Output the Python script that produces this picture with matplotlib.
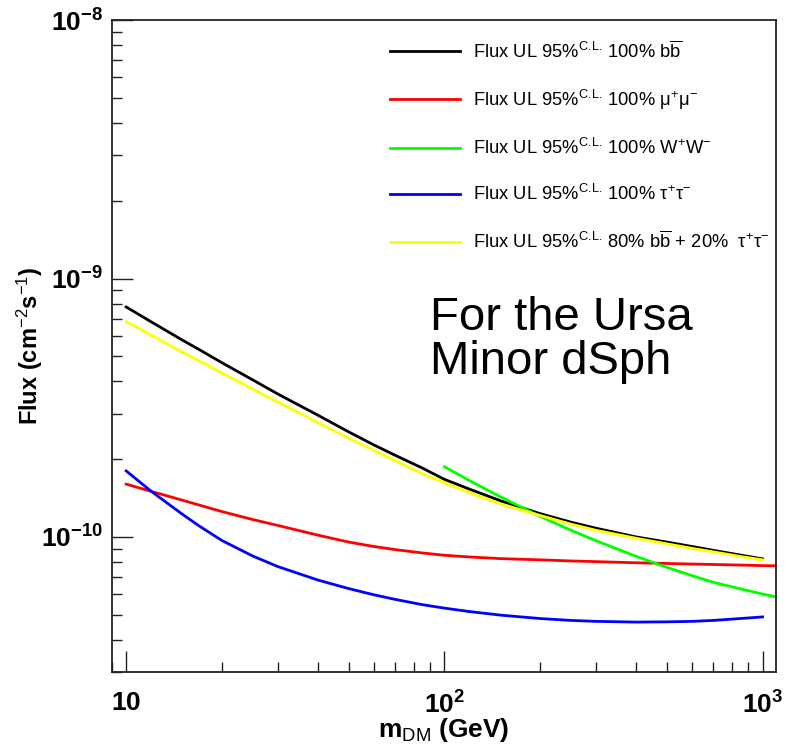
import numpy as np
import matplotlib
matplotlib.use("Agg")
import matplotlib.pyplot as plt
from matplotlib.ticker import FixedLocator, LogLocator, NullFormatter

plt.rcParams['font.family'] = ['Liberation Sans', 'DejaVu Sans']
plt.rcParams['mathtext.fontset'] = 'custom'
plt.rcParams['mathtext.rm'] = 'Liberation Sans'
plt.rcParams['mathtext.it'] = 'Liberation Sans:italic'
plt.rcParams['mathtext.bf'] = 'Liberation Sans:bold'

# DM mass grid (GeV) and flux upper limits (cm^-2 s^-1)
mass = [10, 12, 15, 17, 20, 25, 30, 40, 50, 60, 70, 85, 100, 120, 150, 200,
        250, 300, 400, 500, 600, 700, 850, 1000]
flux_bb = [7.76e-10, 6.79e-10, 5.78e-10, 5.30e-10, 4.72e-10, 4.05e-10, 3.57e-10,
           2.96e-10, 2.55e-10, 2.27e-10, 2.07e-10, 1.85e-10, 1.67e-10, 1.53e-10,
           1.38e-10, 1.23e-10, 1.14e-10, 1.08e-10, 1.00e-10, 9.55e-11, 9.18e-11,
           8.87e-11, 8.51e-11, 8.22e-11]
flux_tautau = [1.80e-10, 1.50e-10, 1.225e-10, 1.10e-10, 9.68e-11, 8.43e-11, 7.67e-11,
               6.81e-11, 6.31e-11, 5.97e-11, 5.73e-11, 5.47e-11, 5.30e-11, 5.14e-11,
               4.98e-11, 4.83e-11, 4.75e-11, 4.71e-11, 4.68e-11, 4.69e-11, 4.71e-11,
               4.75e-11, 4.83e-11, 4.90e-11]
flux_mix = [6.81e-10, 6.03e-10, 5.19e-10, 4.79e-10, 4.31e-10, 3.73e-10, 3.32e-10,
            2.77e-10, 2.41e-10, 2.16e-10, 1.97e-10, 1.76e-10, 1.62e-10, 1.48e-10,
            1.34e-10, 1.21e-10, 1.12e-10, 1.06e-10, 9.88e-11, 9.40e-11, 9.03e-11,
            8.75e-11, 8.40e-11, 8.15e-11]

# mu+mu- is drawn up to the frame edge
mass_mumu = mass + [1100]
flux_mumu = [1.60e-10, 1.50e-10, 1.387e-10, 1.327e-10, 1.253e-10, 1.167e-10, 1.107e-10,
             1.016e-10, 9.55e-11, 9.18e-11, 8.93e-11, 8.67e-11, 8.49e-11, 8.36e-11,
             8.24e-11, 8.15e-11, 8.07e-11, 8.02e-11, 7.94e-11, 7.89e-11, 7.85e-11,
             7.82e-11, 7.78e-11, 7.74e-11, 7.73e-11]

# W+W- only above the W threshold
mass_ww = [100, 120, 150, 200, 250, 300, 400, 500, 600, 700, 850, 1000, 1100]
flux_ww = [1.87e-10, 1.65e-10, 1.43e-10, 1.20e-10, 1.06e-10, 9.66e-11, 8.41e-11,
           7.62e-11, 7.08e-11, 6.67e-11, 6.30e-11, 6.01e-11, 5.86e-11]

labels = [
    r"Flux UL 95%$^{\text{C.L.}}$ 100% b$\overline{\rm b}$",
    r"Flux UL 95%$^{\text{C.L.}}$ 100% μ$^{+}$μ$^{-}$",
    r"Flux UL 95%$^{\text{C.L.}}$ 100% W$^{+}$W$^{-}$",
    r"Flux UL 95%$^{\text{C.L.}}$ 100% τ$^{+}$τ$^{-}$",
    r"Flux UL 95%$^{\text{C.L.}}$ 80% b$\overline{\rm b}$ + 20%  τ$^{+}$τ$^{-}$",
]

fig = plt.figure(figsize=(7.86, 7.45), dpi=100)
ax = fig.add_axes([0.142, 0.098, 0.845, 0.875])

lw = 2.0
ax.plot(mass, flux_bb, color='black', lw=lw, label=labels[0])
ax.plot(mass_mumu, flux_mumu, color='#ff0000', lw=lw, label=labels[1])
ax.plot(mass_ww, flux_ww, color='#00ff00', lw=lw, label=labels[2])
ax.plot(mass, flux_tautau, color='#0000ff', lw=lw, label=labels[3])
ax.plot(mass, flux_mix, color='#ffff00', lw=lw, label=labels[4])

ax.set_xscale('log')
ax.set_yscale('log')
ax.set_xlim(9.0, 1100)
ax.set_ylim(3e-11, 1e-8)

ax.xaxis.set_major_locator(FixedLocator([10, 100, 1000]))
ax.set_xticklabels([r"$\mathbf{10}$", r"$\mathbf{10^{2}}$", r"$\mathbf{10^{3}}$"])
ax.xaxis.set_minor_locator(LogLocator(base=10, subs=np.arange(2, 10)))
ax.xaxis.set_minor_formatter(NullFormatter())
ax.yaxis.set_major_locator(FixedLocator([1e-10, 1e-9, 1e-8]))
ax.set_yticklabels([r"$\mathbf{10^{-10}}$", r"$\mathbf{10^{-9}}$", r"$\mathbf{10^{-8}}$"])
ax.yaxis.set_minor_locator(LogLocator(base=10, subs=np.arange(2, 10)))
ax.yaxis.set_minor_formatter(NullFormatter())

ax.tick_params(which='both', direction='in', top=False, right=False, width=1.0, color='#222222')
ax.tick_params(which='major', length=15, labelsize=19, pad=6)
ax.tick_params(axis='x', which='major', pad=14)
ax.tick_params(which='minor', length=7.5)
for s in ax.spines.values():
    s.set_linewidth(1.3)
    s.set_color('#222222')

ax.set_xlabel(r"m$_{\rm DM}$ (GeV)", fontsize=19, fontweight='bold')
ax.set_ylabel(r"Flux (cm$^{-2}$s$^{-1}$)", fontsize=17, fontweight='bold')
ax.xaxis.set_label_coords(0.5, -0.068)
ax.yaxis.set_label_coords(-0.100, 0.5)

ax.legend(loc='upper left', bbox_to_anchor=(390 / 786, (745 - 40) / 745),
          bbox_transform=fig.transFigure, frameon=False, fontsize=13.2,
          handlelength=3.8, handletextpad=0.75, labelspacing=1.43, borderpad=0,
          borderaxespad=0)

fig.text(430 / 786, (745 - 296) / 745, "For the Ursa\nMinor dSph", fontsize=34,
         ha='left', va='top', linespacing=1.0)

fig.savefig("out.png", dpi=100)
